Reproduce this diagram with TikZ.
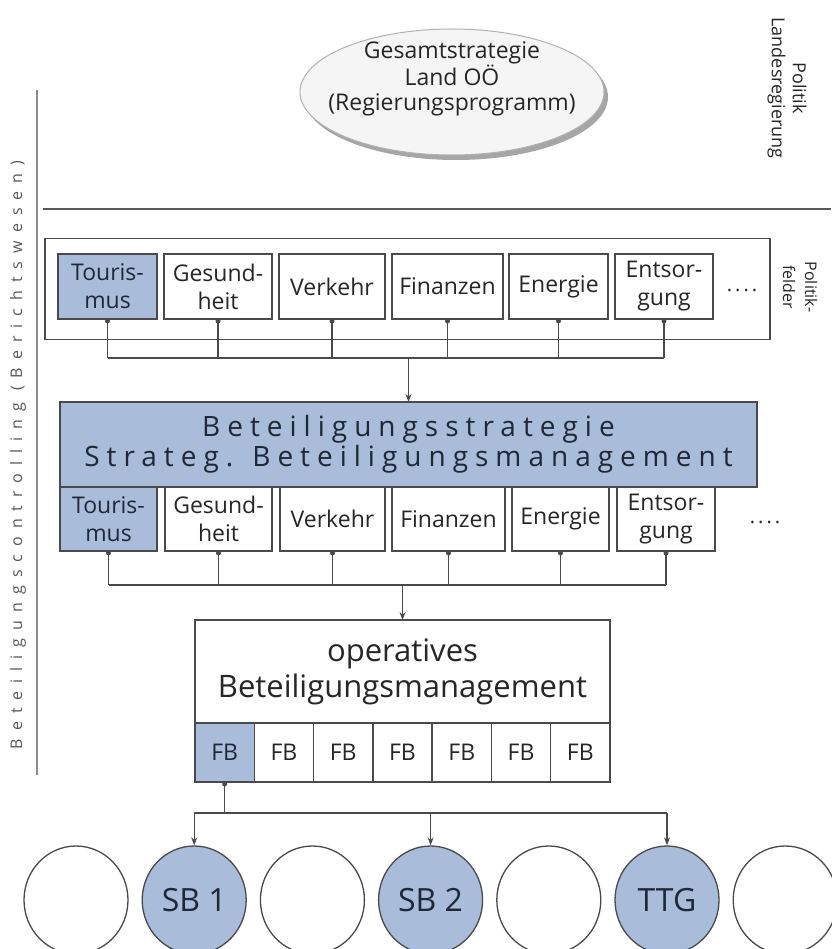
\documentclass[tikz,border=0pt]{standalone}
\usepackage{fontspec}
\setmainfont{Open Sans}
\usetikzlibrary{shapes.geometric,arrows.meta,calc}

\definecolor{feldblau}{HTML}{A9BCD9}
\definecolor{liniengrau}{HTML}{4A4A4A}
\definecolor{textgrau}{HTML}{262626}
\definecolor{textblau}{HTML}{1E2838}

\tikzset{
	kasten/.style={rectangle, draw=liniengrau, line width=1.5pt, fill=white, inner sep=0pt, outer sep=0pt, align=center, text=textgrau, font=\fontsize{23}{28}\selectfont},
	blau/.style={fill=feldblau, text=textblau},
	punkt/.style={circle, fill=liniengrau, inner sep=0pt, minimum size=5pt},
	leitung/.style={draw=liniengrau, line width=1.2pt},
	pfeil/.style={leitung, -{Stealth[length=8pt,width=6pt]}},
	kreis/.style={ellipse, draw=liniengrau, line width=1.3pt, fill=white, minimum width=104pt, minimum height=108pt, inner sep=0pt, text=textgrau, font=\fontsize{32}{32}\selectfont},
	punkte/.style={text=textgrau, font=\fontsize{20}{20}\selectfont\addfontfeature{LetterSpace=15}},
}

\begin{document}
\begin{tikzpicture}[x=1pt, y=-1pt]
		%%%%% START %%%%%
		
		\fill[white] (0, 0) rectangle (831, 949);
		\useasboundingbox (0, 0) rectangle (831, 949);
		
		% Landesregierung
		\node[ellipse, fill=black!35, minimum width=304pt, minimum height=126pt] at (456, 97) {};
		\node[ellipse, draw=black!30, line width=1pt, fill=black!4, minimum width=304pt, minimum height=126pt] (gesamt) at (452, 92) {};
		\node[align=center, text=textgrau, font=\fontsize{23}{25}\selectfont] (gesamttext) at (452, 79) {Gesamtstrategie\\Land OÖ\\(Regierungsprogramm)};
		\node[rotate=-90, align=center, text=textgrau, font=\fontsize{18}{21}\selectfont] (politik) at (787, 88) {Politik\\Landesregierung};
		
		\draw[line width=2pt, color=black!65] (43, 209) -- (831, 209);
		\draw[line width=2pt, color=black!45] (37, 90) -- (37, 775);
		\node[rotate=90, text=black!65, font=\fontsize{16}{16}\selectfont\addfontfeature{LetterSpace=50}] (controlling) at (18, 455) {Beteiligungscontrolling (Berichtswesen)};
		
		% Politikfelder
		\node[draw=liniengrau, line width=1.5pt, inner sep=0pt, minimum width=725pt, minimum height=101pt] (felder) at (407.5, 289) {};
		\node[kasten, blau, minimum width=99pt, minimum height=65pt] (t1) at (107.5, 286.5) {Touris-\\mus};
		\node[kasten, minimum width=108pt, minimum height=65pt] (g1) at (218, 286.5) {Gesund-\\heit};
		\node[kasten, minimum width=106pt, minimum height=65pt] (v1) at (332, 286.5) {Verkehr};
		\node[kasten, minimum width=111pt, minimum height=65pt] (f1) at (447.5, 286.5) {Finanzen};
		\node[kasten, minimum width=99pt, minimum height=65pt] (e1) at (558.5, 286.5) {Energie};
		\node[kasten, minimum width=98pt, minimum height=65pt] (s1) at (664, 286.5) {Entsor-\\gung};
		\node[punkte] (punkte1) at (742, 290) {....};
		\node[rotate=-90, align=center, text=textgrau, font=\fontsize{16}{22}\selectfont] (politikfelder) at (800, 287) {Politik-\\felder};
		
		\coordinate (bus1) at (408.5, 358);
		\foreach \n in {t1, g1, v1, f1, e1, s1} {
			\node[punkt] at ([yshift=-2pt]\n.south) {};
			\draw[leitung] (\n.south) -- (\n.south |- bus1);
		}
		\draw[leitung] (t1.south |- bus1) -- (s1.south |- bus1);
		
		% Beteiligungsstrategie
		\node[kasten, blau, minimum width=697pt, minimum height=85pt, font=\fontsize{28}{30}\selectfont\addfontfeature{LetterSpace=25}] (strat) at (408.5, 444.5) {Beteiligungsstrategie\\Strateg. Beteiligungsmanagement};
		\draw[pfeil] (bus1) -- (strat.north);
		
		\node[kasten, blau, minimum width=97pt, minimum height=64pt] (t2) at (108.5, 519) {Touris-\\mus};
		\node[kasten, minimum width=107pt, minimum height=64pt] (g2) at (218.5, 519) {Gesund-\\heit};
		\node[kasten, minimum width=105pt, minimum height=64pt] (v2) at (332.5, 519) {Verkehr};
		\node[kasten, minimum width=113pt, minimum height=64pt] (f2) at (448.5, 519) {Finanzen};
		\node[kasten, minimum width=97pt, minimum height=64pt] (e2) at (560.5, 519) {Energie};
		\node[kasten, minimum width=98pt, minimum height=64pt] (s2) at (666, 519) {Entsor-\\gung};
		\node[punkte] (punkte2) at (765, 522) {....};
		
		\coordinate (bus2) at (402.5, 585);
		\foreach \n in {t2, g2, v2, f2, e2, s2} {
			\node[punkt] at ([yshift=-2pt]\n.south) {};
			\draw[leitung] (\n.south) -- (\n.south |- bus2);
		}
		\draw[leitung] (t2.south |- bus2) -- (s2.south |- bus2);
		
		% operatives Beteiligungsmanagement
		\node[kasten, minimum width=415pt, minimum height=103pt, font=\fontsize{31}{36}\selectfont] (op) at (402.5, 671.5) {operatives\\Beteiligungsmanagement};
		\draw[pfeil] (bus2) -- (op.north);
		
		\foreach \i in {1, ..., 7} {
			\node[kasten, minimum width=59.3pt, minimum height=59pt] (fb\i) at ({195 + 59.286*(\i - 0.5)}, 752.5) {FB};
		}
		\node[kasten, blau, minimum width=59.3pt, minimum height=59pt] at (fb1) {FB};
		
		% Gesellschaften
		\node[kreis] (k1) at (76, 900) {};
		\node[kreis, blau] (sb1) at (194.2, 900) {SB 1};
		\node[kreis] (k3) at (312.4, 900) {};
		\node[kreis, blau] (sb2) at (430.6, 900) {SB 2};
		\node[kreis] (k5) at (548.8, 900) {};
		\node[kreis, blau] (ttg) at (667, 900) {TTG};
		\node[kreis] (k7) at (785.2, 900) {};
		
		\path (fb1.south) ++(0, 31) coordinate (bus3);
		\node[punkt] at ([yshift=-2pt]fb1.south) {};
		\draw[leitung] (fb1.south) -- (bus3);
		\draw[leitung] (sb1.north |- bus3) -- (ttg.north |- bus3);
		\draw[pfeil] (sb1.north |- bus3) -- (sb1.north);
		\draw[pfeil] (sb2.north |- bus3) -- (sb2.north);
		\draw[pfeil] (ttg.north |- bus3) -- (ttg.north);
		
		%%%%% END %%%%%
	\end{tikzpicture}
\end{document}
